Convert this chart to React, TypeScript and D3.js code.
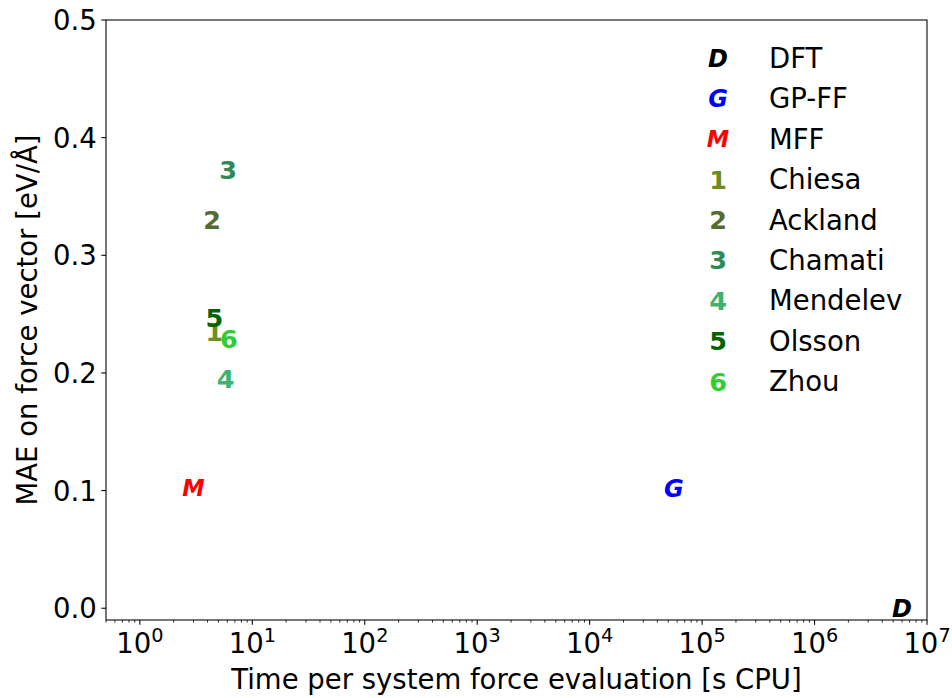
import React from "react";
import * as d3 from "d3";

// Methods: label drawn as marker, legend name, colour, cost (s CPU), force MAE (eV/Å)
const methodSymbols = ["D", "G", "M", "1", "2", "3", "4", "5", "6"];
const methodNames = ["DFT", "GP-FF", "MFF", "Chiesa", "Ackland", "Chamati", "Mendelev", "Olsson", "Zhou"];
const methodColors = ["#000000", "#0000ff", "#ff0000", "#6b8e23", "#556b2f", "#2e8b57", "#3cb371", "#006400", "#32cd32"];
const cpuTimes = [6.0e6, 5.6e4, 3.0, 4.6, 4.4, 6.1, 5.8, 4.6, 6.2];
const forceMAE = [0.0, 0.102, 0.102, 0.235, 0.33, 0.373, 0.195, 0.247, 0.229];

const xTickExponents = [0, 1, 2, 3, 4, 5, 6, 7];
const yTickValues = [0.0, 0.1, 0.2, 0.3, 0.4, 0.5];

const W = 952;
const H = 698;
const M = { left: 106, right: 927, top: 20, bottom: 620 };
const FONT = "DejaVu Sans, sans-serif";
const FS = 27.5;

function markerStyle(sym: string) {
  const isLetter = /[A-Z]/.test(sym);
  let size = 25.5;
  if (sym === "D" || sym === "G") size = 24;
  if (sym === "M") size = 22.5;
  return { isLetter, size };
}

function Marker({ x, y, sym, color }: { x: number; y: number; sym: string; color: string }) {
  const { isLetter, size } = markerStyle(sym);
  return (
    <text
      x={x}
      y={y + size * 0.365}
      textAnchor="middle"
      fontFamily={FONT}
      fontWeight="bold"
      fontStyle={isLetter ? "italic" : "normal"}
      fontSize={size}
      fill={color}
    >
      {sym}
    </text>
  );
}

export default function App() {
  const x = d3.scaleLog().domain([0.5, 1e7]).range([M.left, M.right]);
  const y = d3.scaleLinear().domain([-0.01, 0.5]).range([M.bottom, M.top]);

  const minorTicks: number[] = [];
  for (let e = -1; e < 7; e++) {
    for (let k = 2; k <= 9; k++) {
      const v = k * Math.pow(10, e);
      if (v >= 0.5 && v <= 1e7) minorTicks.push(v);
    }
  }

  const majorLen = 4.67;
  const minorLen = 2.67;
  const axisColor = "#000";
  const lw = 1.07;

  const legendX = 718;
  const legendTextX = 769;
  const legendY0 = 58;
  const legendStep = 40.4;

  return (
    <svg
      width={W}
      height={H}
      viewBox={`0 0 ${W} ${H}`}
      style={{ position: "absolute", left: 0, top: 0, background: "#fff" }}
    >
      <rect x={0} y={0} width={W} height={H} fill="#fff" />

      {/* data markers */}
      {methodSymbols.map((s, i) => (
        <Marker key={s} x={x(cpuTimes[i])} y={y(forceMAE[i])} sym={s} color={methodColors[i]} />
      ))}

      {/* axes frame */}
      <rect
        x={M.left}
        y={M.top}
        width={M.right - M.left}
        height={M.bottom - M.top}
        fill="none"
        stroke={axisColor}
        strokeWidth={lw}
      />

      {/* y ticks */}
      {yTickValues.map((v) => (
        <g key={v}>
          <line x1={M.left - majorLen} x2={M.left} y1={y(v)} y2={y(v)} stroke={axisColor} strokeWidth={lw} />
          <text
            x={M.left - majorLen - 4.67}
            y={y(v) + FS * 0.365}
            textAnchor="end"
            fontFamily={FONT}
            fontSize={FS}
            fill="#000"
          >
            {v.toFixed(1)}
          </text>
        </g>
      ))}

      {/* x minor ticks */}
      {minorTicks.map((v) => (
        <line
          key={v}
          x1={x(v)}
          x2={x(v)}
          y1={M.bottom}
          y2={M.bottom + minorLen}
          stroke={axisColor}
          strokeWidth={0.8}
        />
      ))}

      {/* x major ticks */}
      {xTickExponents.map((e) => {
        const px = x(Math.pow(10, e));
        return (
          <g key={e}>
            <line x1={px} x2={px} y1={M.bottom} y2={M.bottom + majorLen} stroke={axisColor} strokeWidth={lw} />
            <text
              x={px}
              y={653}
              textAnchor="middle"
              fontFamily={FONT}
              fontSize={FS}
              fill="#000"
            >
              10
              <tspan fontSize={FS * 0.7} dy={-FS * 0.4}>
                {e}
              </tspan>
            </text>
          </g>
        );
      })}

      {/* axis labels */}
      <text
        x={(M.left + M.right) / 2}
        y={689}
        textAnchor="middle"
        fontFamily={FONT}
        fontSize={FS}
        fill="#000"
      >
        Time per system force evaluation [s CPU]
      </text>
      <text
        transform={`translate(37, ${(M.top + M.bottom) / 2}) rotate(-90)`}
        textAnchor="middle"
        fontFamily={FONT}
        fontSize={FS}
        fill="#000"
      >
        MAE on force vector [eV/Å]
      </text>

      {/* legend */}
      {methodSymbols.map((s, i) => (
        <g key={`leg-${s}`}>
          <Marker x={legendX} y={legendY0 + i * legendStep} sym={s} color={methodColors[i]} />
          <text
            x={legendTextX}
            y={legendY0 + i * legendStep + FS * 0.365}
            fontFamily={FONT}
            fontSize={FS}
            fill="#000"
          >
            {methodNames[i]}
          </text>
        </g>
      ))}
    </svg>
  );
}
